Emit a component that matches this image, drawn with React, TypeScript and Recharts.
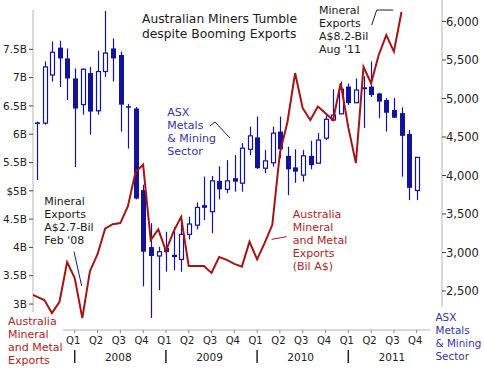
import React from "react";
import { ComposedChart, Bar, Line, XAxis, YAxis, ReferenceLine } from "recharts";

// month index: 0 = Jan 2008
const MONTHS = [
  -6, -5, -4, -3, -2, -1, 0, 1, 2, 3, 4, 5, 6, 7, 8, 9, 10, 11, 12, 13, 14, 15, 16, 17, 18, 19,
  20, 21, 22, 23, 24, 25, 26, 27, 28, 29, 30, 31, 32, 33, 34, 35, 36, 37, 38, 39, 40, 41, 42,
  43, 44, 45,
];

// Australia mineral & metal exports, A$ bil (left axis)
const EXPORTS = [
  3.19, 3.13, 3.07, 2.84, 3.04, 3.74, 3.46, 2.75, 3.58, 3.88, 4.33, 4.41, 4.43, 4.73, 5.33,
  5.46, 4.13, 4.32, 3.94, 4.28, 4.54, 3.67, 3.67, 3.67, 3.55, 3.83, 3.78, 3.71, 3.66, 4.1,
  3.79, 4.08, 4.4, 5.67, 6.22, 7.08, 6.46, 6.25, 6.49, 6.37, 6.25, 6.9, 6.12, 5.49, 7.19, 6.9,
  7.4, 7.75, 7.46, 8.16, null, null,
];

// ASX metals & mining sector, monthly candles (right axis)
const OPEN = [
  null, 4690, 4680, 5305, 5660, 5520, 5260, 4920, 5330, 4840, 5350, 5650, 5565, 4900, 4870,
  3810, 3070, 2955, 3060, 2970, 2910, 3235, 3355, 3615, 3530, 3930, 3820, 3965, 3900, 4340,
  4495, 4095, 4165, 4570, 4255, 4105, 4005, 4255, 4160, 4485, 4720, 4800, 5155, 4945, 5145,
  5155, 5065, 4980, 4850, 4810, 4540, 3805,
];
const HIGH = [
  null, 4700, 5480, 5740, 5750, 5650, 5390, 5390, 5410, 5620, 6140, 5780, 5610, 4930, 4890,
  3880, 3380, 3075, 3270, 3330, 3465, 3465, 3650, 3985, 3995, 4120, 4200, 4265, 4420, 4635,
  4765, 4330, 4635, 4765, 4375, 4340, 4330, 4450, 4550, 4785, 5120, 5220, 5195, 5260, 5290,
  5480, 5075, 5005, 5005, 4885, 4590, 4235,
];
const LOW = [
  null, 3940, 4660, 5220, 5150, 4980, 4110, 4790, 4530, 4790, 5280, 5220, 4570, 4350, 3690,
  2560, 2150, 2510, 2750, 2770, 2750, 3170, 3300, 3420, 3250, 3690, 3770, 3790, 3790, 4265,
  4085, 4030, 4115, 4225, 3745, 3905, 3920, 4080, 4155, 4460, 4715, 4795, 4915, 4940, 4615,
  5020, 4745, 4570, 4750, 3985, 3680, 3680,
];
const CLOSE = [
  null, 4670, 5410, 5600, 5520, 5260, 4870, 5380, 4830, 5350, 5590, 5520, 4920, 4880, 3700,
  3010, 2955, 3010, 3005, 2940, 3235, 3370, 3585, 3580, 3930, 3820, 3930, 3920, 4355, 4515,
  4095, 4190, 4550, 4340, 4080, 4050, 4255, 4135, 4460, 4730, 4785, 5120, 4940, 5110, 5120,
  5045, 4960, 4815, 4750, 4515, 3840, 4235,
];

const LEFT_TICKS = [3, 3.5, 4, 4.5, 5, 5.5, 6, 6.5, 7, 7.5];
const RIGHT_TICKS = [2500, 3000, 3500, 4000, 4500, 5000, 5500, 6000];
const QUARTER_TICKS = [0, 3, 6, 9, 12, 15, 18, 21, 24, 27, 30, 33, 36, 39, 42, 45];
const QUARTER_LABELS = ["Q1", "Q2", "Q3", "Q4", "Q1", "Q2", "Q3", "Q4", "Q1", "Q2", "Q3", "Q4", "Q1", "Q2", "Q3", "Q4"];
const YEARS = ["2008", "2009", "2010", "2011"];

const X_DOMAIN: [number, number] = [-5.49, 48.33];
const LEFT_DOMAIN: [number, number] = [2.541, 8.371];
const RIGHT_DOMAIN: [number, number] = [1993.5, 6279];

const BLUE = "#12129a";
const RED = "#a31515";
const RED_TEXT = "#ad2525";
const BLUE_TEXT = "#3434a0";
const AXIS = "#b4b4b4";
const FONT = "DejaVu Sans";

const data = MONTHS.map((m, i) => ({
  m,
  exports: EXPORTS[i],
  open: OPEN[i],
  high: HIGH[i],
  low: LOW[i],
  close: CLOSE[i],
}));

function Candle(props: any) {
  const { x, y, width, height, payload } = props;
  if (payload.high == null) return null;
  const { open, close, high, low } = payload;
  const cx = Math.round(x + width / 2) + 0.5;
  const k = height / (high - low);
  const yO = y + (high - open) * k;
  const yC = y + (high - close) * k;
  const top = Math.min(yO, yC);
  const h = Math.max(Math.abs(yO - yC), 1.5);
  const up = close >= open;
  return (
    <g>
      <line x1={cx} x2={cx} y1={y} y2={y + height} stroke={BLUE} strokeWidth={1.2} />
      {up ? (
        <rect x={cx - 2} y={top} width={4} height={h} fill="#fff" stroke={BLUE} strokeWidth={1.2} />
      ) : (
        <rect x={cx - 2.5} y={top} width={5} height={h} fill={BLUE} />
      )}
    </g>
  );
}

function QuarterTick(props: any) {
  const { x, y, payload } = props;
  const idx = QUARTER_TICKS.indexOf(payload.value);
  const label = QUARTER_LABELS[idx];
  const year = YEARS[Math.floor(idx / 4)];
  return (
    <g>
      <text x={x - 1.5} y={y} dy="0.71em" textAnchor="middle" fontSize={10} fill="#222" fontFamily={FONT}>
        {label}
      </text>
      {label === "Q1" && (
        <line x1={x} x2={x} y1={y + 13} y2={y + 26} stroke="#222" strokeWidth={1.5} />
      )}
      {label === "Q3" && (
        <text x={x - 2} y={y + 23.5} textAnchor="middle" fontSize={10.5} fill="#222" fontFamily={FONT}>
          {year}
        </text>
      )}
    </g>
  );
}

function TextBlock({ x, y, lines, color, size = 11, gap = 13 }: any) {
  return (
    <text x={x} y={y} fill={color} fontSize={size} fontFamily={FONT}>
      {lines.map((t: string, i: number) => (
        <tspan key={i} x={x} y={y + i * gap}>
          {t}
        </tspan>
      ))}
    </text>
  );
}

export default function App() {
  return (
    <div
      style={{
        position: "absolute",
        left: 0,
        top: 0,
        width: 484,
        height: 370,
        background: "#fff",
        fontFamily: FONT,
      }}
    >
      <ComposedChart width={484} height={370} data={data} margin={{ top: 0, right: 0, bottom: 0, left: 0 }}>
        <XAxis
          dataKey="m"
          type="number"
          domain={X_DOMAIN}
          allowDataOverflow
          ticks={QUARTER_TICKS}
          interval={0}
          tick={<QuarterTick />}
          tickLine={{ stroke: "#888" }}
          tickSize={3}
          tickMargin={4}
          axisLine={false}
          height={40}
        />
        <YAxis
          yAxisId="left"
          orientation="left"
          type="number"
          domain={LEFT_DOMAIN}
          allowDataOverflow
          ticks={LEFT_TICKS}
          interval={0}
          width={33}
          axisLine={false}
          tickLine={{ stroke: "#444" }}
          tickSize={4}
          tickMargin={2}
          tick={{ fontSize: 10.5, fill: "#222", fontFamily: FONT }}
          tickFormatter={(v: number) => (v === 5 ? "$5B" : `${v}B`)}
        />
        <YAxis
          yAxisId="right"
          orientation="right"
          type="number"
          domain={RIGHT_DOMAIN}
          allowDataOverflow
          ticks={RIGHT_TICKS}
          interval={0}
          width={42}
          axisLine={false}
          tickLine={{ stroke: "#444" }}
          tickSize={4}
          tickMargin={0}
          tick={{ fontSize: 11.5, fill: "#222", fontFamily: FONT, textAnchor: "start" }}
          tickFormatter={(v: number) => v.toLocaleString("en-US")}
        />

        {/* axis lines, shorter than the plot area as in the original */}
        <ReferenceLine yAxisId="left" ifOverflow="visible" stroke={AXIS}
          segment={[{ x: X_DOMAIN[0], y: 8.194 }, { x: X_DOMAIN[0], y: 2.859 }]} />
        <ReferenceLine yAxisId="left" ifOverflow="visible" stroke={AXIS}
          segment={[{ x: X_DOMAIN[1], y: 8.371 }, { x: X_DOMAIN[1], y: 2.947 }]} />
        <ReferenceLine yAxisId="left" ifOverflow="visible" stroke={AXIS}
          segment={[{ x: -1.54, y: LEFT_DOMAIN[0] }, { x: 46.75, y: LEFT_DOMAIN[0] }]} />

        <Bar
          yAxisId="right"
          dataKey={(d: any) => (d.high == null ? null : [d.low, d.high])}
          barSize={6}
          shape={<Candle />}
          isAnimationActive={false}
        />
        <Line
          yAxisId="left"
          dataKey="exports"
          type="linear"
          stroke={RED}
          strokeWidth={2}
          dot={false}
          activeDot={false}
          isAnimationActive={false}
        />

        {/* callout leaders */}
        <ReferenceLine yAxisId="left" ifOverflow="visible" stroke="#222"
          segment={[{ x: 39.08, y: 7.929 }, { x: 39.74, y: 8.194 }]} />
        <ReferenceLine yAxisId="left" ifOverflow="visible" stroke="#222"
          segment={[{ x: 39.74, y: 8.194 }, { x: 41.92, y: 8.194 }]} />
        <ReferenceLine yAxisId="left" ifOverflow="visible" stroke={BLUE}
          segment={[{ x: -0.09, y: 3.924 }, { x: 0.92, y: 3.318 }]} />
        <ReferenceLine yAxisId="left" ifOverflow="visible" stroke="#222"
          segment={[{ x: 17.8, y: 6.145 }, { x: 18.46, y: 6.216 }]} />
        <ReferenceLine yAxisId="left" ifOverflow="visible" stroke="#222"
          segment={[{ x: 18.46, y: 6.216 }, { x: 20.43, y: 5.933 }]} />
        <ReferenceLine yAxisId="left" ifOverflow="visible" stroke={RED}
          segment={[{ x: 25.92, y: 4.143 }, { x: 27.89, y: 4.189 }]} />
      </ComposedChart>

      <svg
        width={484}
        height={370}
        style={{ position: "absolute", left: 0, top: 0, pointerEvents: "none" }}
      >
        <TextBlock x={142} y={22.8} lines={["Australian Miners Tumble", "despite Booming Exports"]} color="#1a1a1a" size={12.3} gap={15} />
        <TextBlock x={319} y={14} lines={["Mineral", "Exports", "A$8.2-Bil", "Aug '11"]} color="#1a1a1a" />
        <TextBlock x={44.3} y={205} lines={["Mineral", "Exports", "A$2.7-Bil", "Feb '08"]} color="#1a1a1a" />
        <TextBlock x={167.3} y={115.7} lines={["ASX", "Metals", "& Mining", "Sector"]} color={BLUE_TEXT} />
        <TextBlock x={292.7} y={218.3} lines={["Australia", "Mineral", "and Metal", "Exports", "(Bil A$)"]} color={RED_TEXT} />
        <TextBlock x={8} y={325} lines={["Australia", "Mineral", "and Metal", "Exports"]} color={RED_TEXT} />
        <TextBlock x={435.5} y={321.3} lines={["ASX", "Metals", "& Mining", "Sector"]} color={BLUE_TEXT} size={10.4} />
      </svg>
    </div>
  );
}
